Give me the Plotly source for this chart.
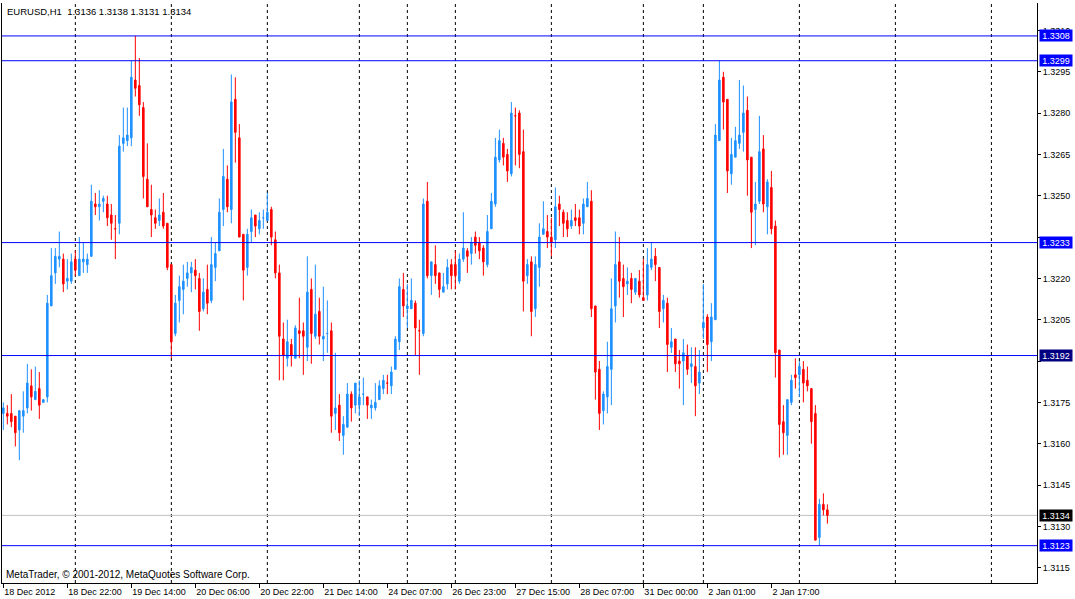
import plotly.graph_objects as go

# EURUSD H1, 18 Dec 2012 06:00 .. 3 Jan 2013 07:00 (one entry per bar)
opens = [
    1.3171, 1.3171, 1.3171, 1.3170, 1.3165, 1.3170, 1.3173, 1.3181, 1.3176, 1.3180,
    1.3175, 1.3177, 1.3210, 1.3222, 1.3227, 1.3227, 1.3219, 1.3219, 1.3227, 1.3221,
    1.3226, 1.3225, 1.3228, 1.3247, 1.3246, 1.3248, 1.3247, 1.3243, 1.3238, 1.3240,
    1.3269, 1.3270, 1.3271, 1.3292, 1.3290, 1.3282, 1.3256, 1.3245, 1.3242, 1.3241,
    1.3244, 1.3240, 1.3225, 1.3200, 1.3212, 1.3216, 1.3220, 1.3222, 1.3223, 1.3220,
    1.3209, 1.3216, 1.3212, 1.3224, 1.3230, 1.3245, 1.3256, 1.3245, 1.3285, 1.3271,
    1.3236, 1.3224, 1.3237, 1.3243, 1.3238, 1.3242, 1.3241, 1.3245, 1.3234, 1.3222,
    1.3198, 1.3191, 1.3196, 1.3191, 1.3201, 1.3201, 1.3195, 1.3216, 1.3199, 1.3208,
    1.3198, 1.3200, 1.3201, 1.3171, 1.3174, 1.3163, 1.3166, 1.3178, 1.3174, 1.3174,
    1.3178, 1.3177, 1.3173, 1.3173, 1.3176, 1.3180, 1.3182, 1.3181, 1.3187, 1.3197,
    1.3216, 1.3209, 1.3209, 1.3211, 1.3201, 1.3200, 1.3248, 1.3221, 1.3225, 1.3222,
    1.3215, 1.3218, 1.3225, 1.3225, 1.3219, 1.3227, 1.3230, 1.3229, 1.3235, 1.3233,
    1.3231, 1.3225, 1.3238, 1.3247, 1.3263, 1.3269, 1.3265, 1.3258, 1.3279, 1.3280,
    1.3266, 1.3221, 1.3226, 1.3209, 1.3224, 1.3236, 1.3237, 1.3235, 1.3234, 1.3247,
    1.3244, 1.3241, 1.3239, 1.3242, 1.3242, 1.3240, 1.3246, 1.3248, 1.3210, 1.3187,
    1.3172, 1.3177, 1.3187, 1.3210, 1.3226, 1.3220, 1.3218, 1.3220, 1.3215, 1.3219,
    1.3213, 1.3214, 1.3224, 1.3228, 1.3224, 1.3209, 1.3211, 1.3195, 1.3198, 1.3190,
    1.3190, 1.3192, 1.3188, 1.3188, 1.3182, 1.3202, 1.3206, 1.3197, 1.3205, 1.3270,
    1.3293, 1.3285, 1.3258, 1.3264, 1.3269, 1.3273, 1.3281, 1.3264, 1.3245, 1.3248,
    1.3267, 1.3246, 1.3253, 1.3239, 1.3194, 1.3168, 1.3163, 1.3175, 1.3185, 1.3185,
    1.3187, 1.3183, 1.3180, 1.3171, 1.3126, 1.3138, 1.3136,
]
highs = [
    1.3175, 1.3174, 1.3178, 1.3170, 1.3172, 1.3179, 1.3189, 1.3187, 1.3188, 1.3186,
    1.3176, 1.3214, 1.3231, 1.3231, 1.3237, 1.3229, 1.3227, 1.3229, 1.3230, 1.3235,
    1.3233, 1.3229, 1.3254, 1.3251, 1.3252, 1.3250, 1.3250, 1.3247, 1.3243, 1.3272,
    1.3282, 1.3282, 1.3299, 1.3308, 1.3300, 1.3284, 1.3269, 1.3254, 1.3245, 1.3249,
    1.3251, 1.3240, 1.3225, 1.3214, 1.3221, 1.3225, 1.3226, 1.3226, 1.3227, 1.3222,
    1.3220, 1.3225, 1.3235, 1.3233, 1.3249, 1.3267, 1.3261, 1.3294, 1.3293, 1.3276,
    1.3236, 1.3238, 1.3245, 1.3243, 1.3244, 1.3245, 1.3251, 1.3246, 1.3237, 1.3225,
    1.3204, 1.3205, 1.3198, 1.3203, 1.3213, 1.3204, 1.3228, 1.3220, 1.3225, 1.3213,
    1.3217, 1.3212, 1.3204, 1.3193, 1.3178, 1.3170, 1.3182, 1.3179, 1.3182, 1.3183,
    1.3184, 1.3177, 1.3176, 1.3182, 1.3183, 1.3185, 1.3185, 1.3188, 1.3199, 1.3220,
    1.3222, 1.3218, 1.3220, 1.3212, 1.3205, 1.3249, 1.3255, 1.3226, 1.3232, 1.3222,
    1.3222, 1.3227, 1.3227, 1.3230, 1.3229, 1.3244, 1.3231, 1.3235, 1.3237, 1.3235,
    1.3232, 1.3243, 1.3251, 1.3271, 1.3274, 1.3271, 1.3267, 1.3284, 1.3282, 1.3281,
    1.3274, 1.3227, 1.3228, 1.3228, 1.3240, 1.3248, 1.3243, 1.3242, 1.3253, 1.3250,
    1.3245, 1.3244, 1.3245, 1.3247, 1.3245, 1.3249, 1.3255, 1.3252, 1.3210, 1.3190,
    1.3179, 1.3197, 1.3220, 1.3237, 1.3235, 1.3225, 1.3224, 1.3222, 1.3220, 1.3223,
    1.3227, 1.3231, 1.3233, 1.3231, 1.3224, 1.3214, 1.3213, 1.3202, 1.3198, 1.3194,
    1.3198, 1.3196, 1.3195, 1.3195, 1.3194, 1.3218, 1.3207, 1.3211, 1.3276, 1.3299,
    1.3295, 1.3285, 1.3271, 1.3275, 1.3292, 1.3290, 1.3286, 1.3264, 1.3255, 1.3279,
    1.3272, 1.3256, 1.3259, 1.3241, 1.3194, 1.3174, 1.3176, 1.3185, 1.3191, 1.3190,
    1.3190, 1.3188, 1.3180, 1.3174, 1.3140, 1.3142, 1.3138,
]
lows = [
    1.3165, 1.3167, 1.3166, 1.3159, 1.3154, 1.3164, 1.3171, 1.3172, 1.3176, 1.3169,
    1.3175, 1.3175, 1.3210, 1.3218, 1.3224, 1.3215, 1.3216, 1.3218, 1.3221, 1.3221,
    1.3222, 1.3222, 1.3228, 1.3243, 1.3241, 1.3244, 1.3239, 1.3234, 1.3227, 1.3236,
    1.3266, 1.3268, 1.3268, 1.3286, 1.3279, 1.3249, 1.3246, 1.3235, 1.3238, 1.3239,
    1.3238, 1.3223, 1.3191, 1.3199, 1.3204, 1.3207, 1.3217, 1.3215, 1.3216, 1.3201,
    1.3208, 1.3207, 1.3211, 1.3219, 1.3230, 1.3239, 1.3244, 1.3240, 1.3262, 1.3235,
    1.3212, 1.3221, 1.3233, 1.3235, 1.3236, 1.3238, 1.3241, 1.3232, 1.3220, 1.3183,
    1.3183, 1.3188, 1.3188, 1.3191, 1.3191, 1.3185, 1.3190, 1.3189, 1.3198, 1.3196,
    1.3190, 1.3193, 1.3164, 1.3165, 1.3161, 1.3156, 1.3166, 1.3168, 1.3171, 1.3170,
    1.3174, 1.3169, 1.3169, 1.3172, 1.3176, 1.3178, 1.3178, 1.3178, 1.3187, 1.3194,
    1.3206, 1.3202, 1.3209, 1.3192, 1.3185, 1.3199, 1.3220, 1.3214, 1.3218, 1.3213,
    1.3215, 1.3216, 1.3216, 1.3216, 1.3218, 1.3226, 1.3222, 1.3225, 1.3229, 1.3227,
    1.3221, 1.3224, 1.3238, 1.3246, 1.3262, 1.3261, 1.3255, 1.3257, 1.3261, 1.3260,
    1.3208, 1.3218, 1.3199, 1.3206, 1.3217, 1.3236, 1.3231, 1.3228, 1.3231, 1.3239,
    1.3235, 1.3235, 1.3238, 1.3239, 1.3236, 1.3236, 1.3246, 1.3206, 1.3176, 1.3165,
    1.3167, 1.3171, 1.3174, 1.3204, 1.3213, 1.3206, 1.3214, 1.3211, 1.3214, 1.3213,
    1.3212, 1.3212, 1.3223, 1.3219, 1.3202, 1.3204, 1.3186, 1.3193, 1.3186, 1.3180,
    1.3174, 1.3185, 1.3182, 1.3170, 1.3178, 1.3198, 1.3186, 1.3190, 1.3205, 1.3270,
    1.3274, 1.3251, 1.3254, 1.3264, 1.3267, 1.3266, 1.3250, 1.3231, 1.3232, 1.3247,
    1.3244, 1.3236, 1.3236, 1.3184, 1.3155, 1.3156, 1.3156, 1.3174, 1.3180, 1.3177,
    1.3175, 1.3179, 1.3160, 1.3125, 1.3123, 1.3134, 1.3131,
]
closes = [
    1.3173, 1.3170, 1.3168, 1.3164, 1.3172, 1.3172, 1.3182, 1.3177, 1.3179, 1.3174,
    1.3176, 1.3211, 1.3221, 1.3228, 1.3228, 1.3218, 1.3220, 1.3226, 1.3223, 1.3227,
    1.3227, 1.3227, 1.3248, 1.3246, 1.3247, 1.3249, 1.3242, 1.3240, 1.3238, 1.3268,
    1.3271, 1.3272, 1.3293, 1.3289, 1.3283, 1.3257, 1.3246, 1.3243, 1.3240, 1.3243,
    1.3239, 1.3224, 1.3197, 1.3211, 1.3217, 1.3219, 1.3222, 1.3224, 1.3221, 1.3208,
    1.3215, 1.3211, 1.3225, 1.3229, 1.3244, 1.3257, 1.3246, 1.3284, 1.3273, 1.3235,
    1.3223, 1.3236, 1.3242, 1.3239, 1.3241, 1.3242, 1.3244, 1.3235, 1.3222, 1.3199,
    1.3192, 1.3197, 1.3192, 1.3202, 1.3200, 1.3199, 1.3215, 1.3200, 1.3207, 1.3199,
    1.3199, 1.3200, 1.3170, 1.3173, 1.3164, 1.3167, 1.3178, 1.3173, 1.3182, 1.3177,
    1.3178, 1.3174, 1.3174, 1.3175, 1.3181, 1.3183, 1.3182, 1.3186, 1.3198, 1.3217,
    1.3210, 1.3210, 1.3212, 1.3202, 1.3201, 1.3247, 1.3221, 1.3226, 1.3221, 1.3216,
    1.3217, 1.3224, 1.3221, 1.3221, 1.3227, 1.3231, 1.3228, 1.3233, 1.3232, 1.3230,
    1.3226, 1.3237, 1.3248, 1.3264, 1.3270, 1.3264, 1.3259, 1.3280, 1.3279, 1.3265,
    1.3219, 1.3225, 1.3208, 1.3225, 1.3235, 1.3238, 1.3235, 1.3233, 1.3246, 1.3245,
    1.3240, 1.3238, 1.3241, 1.3241, 1.3239, 1.3247, 1.3249, 1.3209, 1.3186, 1.3171,
    1.3178, 1.3188, 1.3209, 1.3225, 1.3219, 1.3217, 1.3219, 1.3216, 1.3220, 1.3214,
    1.3212, 1.3225, 1.3227, 1.3225, 1.3208, 1.3212, 1.3196, 1.3197, 1.3189, 1.3189,
    1.3193, 1.3187, 1.3189, 1.3181, 1.3186, 1.3204, 1.3196, 1.3206, 1.3272, 1.3292,
    1.3284, 1.3259, 1.3265, 1.3270, 1.3272, 1.3280, 1.3263, 1.3244, 1.3247, 1.3266,
    1.3247, 1.3255, 1.3238, 1.3193, 1.3167, 1.3164, 1.3176, 1.3183, 1.3184, 1.3188,
    1.3182, 1.3181, 1.3168, 1.3125, 1.3138, 1.3136, 1.3134,
]
bars = list(range(len(opens)))

# time axis labels (every 16 bars) and day separators (bar index)
date_ticks = [0, 16, 32, 48, 64, 80, 96, 112, 128, 144, 160, 176, 192]
date_labels = ["18 Dec 2012", "18 Dec 22:00", "19 Dec 14:00", "20 Dec 06:00",
               "20 Dec 22:00", "21 Dec 14:00", "24 Dec 07:00", "26 Dec 23:00",
               "27 Dec 15:00", "28 Dec 07:00", "31 Dec 00:00", "2 Jan 01:00",
               "2 Jan 17:00"]
day_breaks = [18, 42, 66, 89, 101, 113, 137, 160, 175, 199, 223, 247]

price_ticks = [1.3115, 1.3130, 1.3145, 1.3160, 1.3175, 1.3190, 1.3205,
               1.3220, 1.3235, 1.3250, 1.3265, 1.3280, 1.3295, 1.3310]
# labels at 1.3190 and 1.3235 sit under the line boxes, so they stay blank
price_labels = ["1.3115", "1.3130", "1.3145", "1.3160", "1.3175", "", "1.3205",
                "1.3220", "", "1.3250", "1.3265", "1.3280", "1.3295", "1.3310"]

# horizontal lines drawn on the chart
levels = [1.3308, 1.3299, 1.3233, 1.3192, 1.3123]
level_box = ["#0000FF", "#0000FF", "#0000FF", "#000080", "#0000FF"]

bid = closes[-1]
header = "EURUSD,H1  %.4f %.4f %.4f %.4f" % (opens[-1], highs[-1], lows[-1], closes[-1])

FONT = "Liberation Sans"

fig = go.Figure(go.Candlestick(
    x=bars, open=opens, high=highs, low=lows, close=closes,
    increasing=dict(line=dict(color="#1E90FF", width=1), fillcolor="#1E90FF"),
    decreasing=dict(line=dict(color="#FF0000", width=1), fillcolor="#FF0000"),
    whiskerwidth=0, hoverinfo="skip", showlegend=False,
))

# day separators
for b in day_breaks:
    fig.add_shape(type="line", xref="x", yref="paper", x0=b, x1=b, y0=0, y1=1,
                  line=dict(color="black", width=1, dash="3px,3px"), layer="below")

# bid line
fig.add_shape(type="line", xref="paper", yref="y", x0=0, x1=1, y0=bid, y1=bid,
              line=dict(color="#C0C0C0", width=1), layer="below")

for lv in levels:
    fig.add_shape(type="line", xref="paper", yref="y", x0=0, x1=1, y0=lv, y1=lv,
                  line=dict(color="#0000FF", width=1), layer="above")

# price boxes on the right scale
for lv, col in zip(levels, level_box):
    fig.add_annotation(xref="paper", yref="y", x=1, y=lv, xanchor="left", xshift=2,
                       text="%.4f" % lv, showarrow=False, bgcolor=col,
                       width=32, height=11, borderpad=0,
                       font=dict(family=FONT, size=9, color="white"))
fig.add_annotation(xref="paper", yref="y", x=1, y=bid, xanchor="left", xshift=2,
                   text="%.4f" % bid, showarrow=False, bgcolor="black",
                   width=32, height=11, borderpad=0,
                   font=dict(family=FONT, size=9, color="white"))

fig.add_annotation(xref="paper", yref="paper", x=0, y=1, xanchor="left", yanchor="top",
                   xshift=3, yshift=-1, text=header, showarrow=False,
                   font=dict(family=FONT, size=9.5, color="black"))
fig.add_annotation(xref="paper", yref="paper", x=0, y=0, xanchor="left", yanchor="bottom",
                   xshift=2, yshift=1, text="MetaTrader, © 2001-2012, MetaQuotes Software Corp.",
                   showarrow=False, font=dict(family=FONT, size=10, color="black"))

fig.update_layout(
    width=1075, height=599,
    margin=dict(l=2, r=38, t=3, b=16),
    paper_bgcolor="white", plot_bgcolor="white",
    showlegend=False, boxgap=0.45,
    font=dict(family=FONT, size=9, color="black"),
    xaxis=dict(range=[-0.33, 258.4], rangeslider=dict(visible=False),
               tickvals=date_ticks, ticktext=date_labels,
               ticklabelposition="outside right",
               ticks="outside", ticklen=4, tickcolor="black",
               showgrid=False, zeroline=False,
               showline=True, linecolor="black", linewidth=1),
    yaxis=dict(side="right", range=[1.310945, 1.331995],
               tickvals=price_ticks, ticktext=price_labels,
               ticks="outside", ticklen=3, tickcolor="black",
               showgrid=False, zeroline=False,
               showline=True, mirror=True, linecolor="black", linewidth=1),
)

fig.write_html("out.html", config={"displayModeBar": False},
               post_script="document.body.style.margin='0';")
